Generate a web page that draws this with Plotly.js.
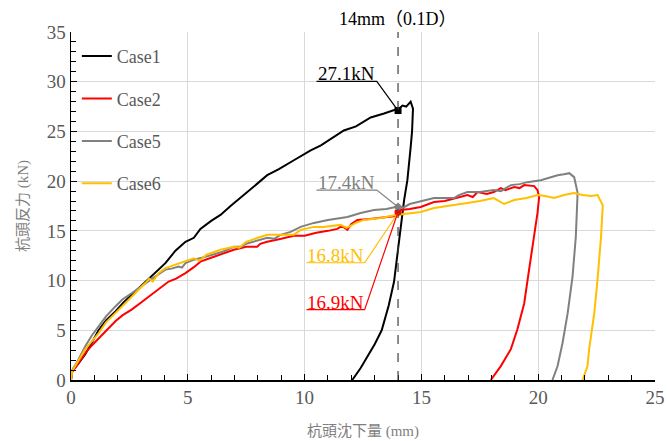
<!DOCTYPE html>
<html><head><meta charset="utf-8">
<script src="https://cdn.plot.ly/plotly-3.0.1.min.js"></script>
<style>html,body{margin:0;padding:0;background:#fff;}#chart{width:667px;height:441px;}</style>
</head><body><div id="chart"></div>
<script>
const seriesNames = ["Case1", "Case2", "Case5", "Case6"];
const seriesColors = ["#000000", "#ff0000", "#808080", "#ffc000"];

const case1X = [0,0.05,0.3,0.61,0.9,1.18,1.5,1.9,2.25,2.61,3.0,3.18,3.6,4.04,4.47,4.9,5.26,5.54,6.0,6.4,6.83,7.2,7.6,8.0,8.4,8.9,9.54,10.26,10.7,11.2,11.68,12.2,12.83,13.4,13.9,14.0,14.19,14.35,14.54,14.64,14.6,14.54,14.4,14.26,14.15,14.0,13.83,13.6,13.3,13.0,12.7,12.4,12.04];
const case1Y = [0,0.9,1.6,2.6,3.8,5.0,6.0,6.9,7.8,8.6,9.5,9.9,10.8,11.75,13.0,13.9,14.3,15.2,16.0,16.6,17.5,18.2,19.0,19.8,20.6,21.2,22.1,23.1,23.6,24.4,25.1,25.5,26.4,26.8,27.2,27.2,27.6,27.5,28.0,27.3,25.0,23.4,20.1,18.1,16.0,13.0,9.9,7.5,5.0,3.6,2.4,1.2,0];

const case2X = [0,0.05,0.26,0.61,0.9,1.18,1.5,1.9,2.2,2.61,3.0,3.33,3.8,4.18,4.5,4.9,5.26,5.54,6.0,6.5,6.97,7.5,7.97,8.1,8.4,9.0,9.54,10.0,10.5,11.0,11.4,11.6,11.83,12.0,12.26,12.8,13.26,13.9,14.11,14.5,14.97,15.54,16.0,16.54,16.97,17.2,17.4,17.8,18.1,18.4,18.6,18.97,19.2,19.4,19.83,19.97,20.04,19.97,19.83,19.61,19.4,19.11,18.83,18.4,17.97];
const case2Y = [0,0.8,1.5,2.7,3.5,4.2,5.0,5.9,6.5,7.1,7.8,8.4,9.2,9.9,10.2,10.75,11.35,11.9,12.3,12.7,13.1,13.4,13.4,13.7,13.9,14.2,14.5,14.5,14.8,15.0,15.2,15.5,15.1,15.7,16.1,16.2,16.3,16.5,17.1,17.2,17.4,17.9,18.0,18.3,18.6,18.4,18.9,18.7,18.9,19.3,19.1,19.4,19.3,19.6,19.5,19.1,18.4,16.8,14.4,11.1,7.7,5.1,3.1,1.4,0];

const case5X = [0,0.05,0.26,0.61,0.9,1.18,1.5,1.9,2.2,2.61,3.18,3.6,4.04,4.3,4.61,4.75,4.9,5.26,5.6,6.0,6.5,6.97,7.3,7.5,8.0,8.4,8.7,8.97,9.4,9.83,10.4,11.0,11.83,12.4,12.97,13.5,13.9,14.2,14.5,14.97,15.54,16.0,16.4,16.6,16.97,17.5,18.1,18.4,18.83,19.2,19.54,20.11,20.5,20.83,21.1,21.33,21.54,21.68,21.68,21.61,21.47,21.26,21.04,20.83,20.61];
const case5Y = [0,1.0,1.8,3.4,4.5,5.4,6.4,7.4,8.1,8.75,9.75,10.4,11.1,11.2,11.4,11.3,11.75,12.1,12.3,12.6,12.9,13.4,13.4,13.7,14.0,14.3,14.2,14.6,14.9,15.4,15.8,16.1,16.4,16.8,17.1,17.2,17.4,17.3,17.7,18.0,18.3,18.3,18.3,18.6,18.9,18.9,19.1,19.0,19.6,19.7,19.9,20.1,20.4,20.6,20.7,20.8,20.4,18.9,18.4,14.4,10.4,6.7,3.7,1.4,0];

const case6X = [0,0.05,0.26,0.61,0.9,1.18,1.5,1.9,2.2,2.61,3.18,3.35,3.5,3.75,4.04,4.61,5.0,5.26,5.5,5.8,6.4,6.97,7.2,7.5,8.0,8.4,9.0,9.54,9.83,10.4,10.8,11.54,11.8,12.2,12.54,13.26,13.9,14.5,14.97,15.54,16.2,16.97,17.5,18.1,18.54,18.97,19.5,19.97,20.3,20.68,21.1,21.54,21.9,22.26,22.54,22.76,22.76,22.69,22.54,22.4,22.18,22.11,21.9];
const case6Y = [0,0.9,1.7,3.1,3.9,4.7,5.8,6.7,7.4,8.4,9.75,10.2,9.9,10.75,11.25,11.75,12.1,12.25,12.0,12.6,13.1,13.4,13.3,13.9,14.3,14.6,14.6,14.6,15.1,15.4,15.4,15.6,15.3,15.8,16.1,16.3,16.6,16.8,16.9,17.3,17.5,17.8,18.0,18.3,17.7,18.1,18.3,18.6,18.5,18.3,18.6,18.8,18.6,18.5,18.6,17.6,17.4,14.4,10.1,6.7,3.1,1.4,0];

// values at 14 mm (0.1D)
const markX = 14;
const markValues = [27.1, 16.9, 17.4, 16.8];
const markLabels = ["27.1kN", "16.9kN", "17.4kN", "16.8kN"];
const markSymbols = ["square", "circle", "diamond", "circle"];
const xTickVals = [0,5,10,15,20,25];
const yTickVals = [0,5,10,15,20,25,30,35];

const xs = [case1X, case2X, case5X, case6X];
const ys = [case1Y, case2Y, case5Y, case6Y];

const serif = "Liberation Serif, Times New Roman, Noto Sans CJK JP, serif";
const traces = [];
for (let i = 0; i < 4; i++) {
  traces.push({
    x: xs[i], y: ys[i], type: "scatter", mode: "lines", name: seriesNames[i],
    line: {color: seriesColors[i], width: 2}, legendgroup: "g" + i
  });
}
const drawOrder = [3, 1, 2, 0];
for (const i of drawOrder) {
  traces.push({
    x: [markX], y: [markValues[i]], type: "scatter", mode: "markers", showlegend: false,
    marker: {color: seriesColors[i], size: 7, symbol: markSymbols[i]}, hoverinfo: "skip"
  });
}

const callouts = [
  {i: 0, x0: 10.51, x1: 13.09, y: 30.04},
  {i: 2, x0: 10.51, x1: 13.09, y: 19.1},
  {i: 3, x0: 10.08, x1: 12.57, y: 11.79},
  {i: 1, x0: 10.08, x1: 12.57, y: 7.07}
];
const shapes = [{
  type: "line", xref: "x", yref: "y", x0: markX, x1: markX, y0: 0, y1: 35,
  line: {color: "#404040", width: 1.2, dash: "dash"}, layer: "above"
}];
const annotations = [{
  xref: "x", yref: "paper", x: markX, y: 1.0, yanchor: "bottom", yshift: 1,
  text: "14mm（0.1D）", showarrow: false,
  font: {family: serif, size: 18, color: "#000000"}
}];
for (const c of callouts) {
  const col = seriesColors[c.i];
  shapes.push({type: "path", xref: "x", yref: "y",
    path: `M ${c.x0} ${c.y} L ${c.x1} ${c.y} L ${markX} ${markValues[c.i]}`,
    line: {color: col, width: 1.2}, layer: "above"});
  annotations.push({xref: "x", yref: "y", x: (c.x0 + c.x1) / 2, y: c.y, yanchor: "bottom",
    yshift: -5, text: markLabels[c.i], showarrow: false,
    font: {family: serif, size: 19, color: col}});
}

const layout = {
  width: 667, height: 441,
  margin: {l: 71, r: 12, t: 32, b: 60.5},
  paper_bgcolor: "#ffffff", plot_bgcolor: "#ffffff",
  showlegend: true,
  legend: {x: 0.01, y: 0.983, xanchor: "left", yanchor: "top", bgcolor: "rgba(0,0,0,0)",
    font: {family: serif, size: 18, color: "#595959"}, traceorder: "grouped", tracegroupgap: 16,
    itemwidth: 30},
  xaxis: {range: [0, 25], tickvals: xTickVals, showgrid: true, gridcolor: "#d9d9d9", gridwidth: 1,
    zeroline: false, showline: true, linecolor: "#000000", linewidth: 1.5,
    ticks: "inside", ticklen: 6, tickcolor: "#000000",
    minor: {dtick: 1, ticks: "inside", ticklen: 5, tickcolor: "#000000", showgrid: false},
    tickfont: {family: serif, size: 19, color: "#595959"},
    title: {text: "杭頭沈下量 (mm)", font: {family: serif, size: 15, color: "#7f7f7f"}, standoff: 18},
    automargin: false},
  yaxis: {range: [0, 35], tickvals: yTickVals, showgrid: true, gridcolor: "#d9d9d9", gridwidth: 1,
    zeroline: false, showline: true, linecolor: "#000000", linewidth: 1.5,
    ticks: "inside", ticklen: 6, tickcolor: "#000000",
    minor: {dtick: 1, ticks: "inside", ticklen: 5, tickcolor: "#000000", showgrid: false},
    tickfont: {family: serif, size: 19, color: "#595959"},
    title: {text: "杭頭反力 (kN)", font: {family: serif, size: 15, color: "#7f7f7f"}, standoff: 14},
    automargin: false},
  shapes: shapes,
  annotations: annotations
};
Plotly.newPlot("chart", traces, layout, {displayModeBar: false, staticPlot: true});
</script></body></html>
